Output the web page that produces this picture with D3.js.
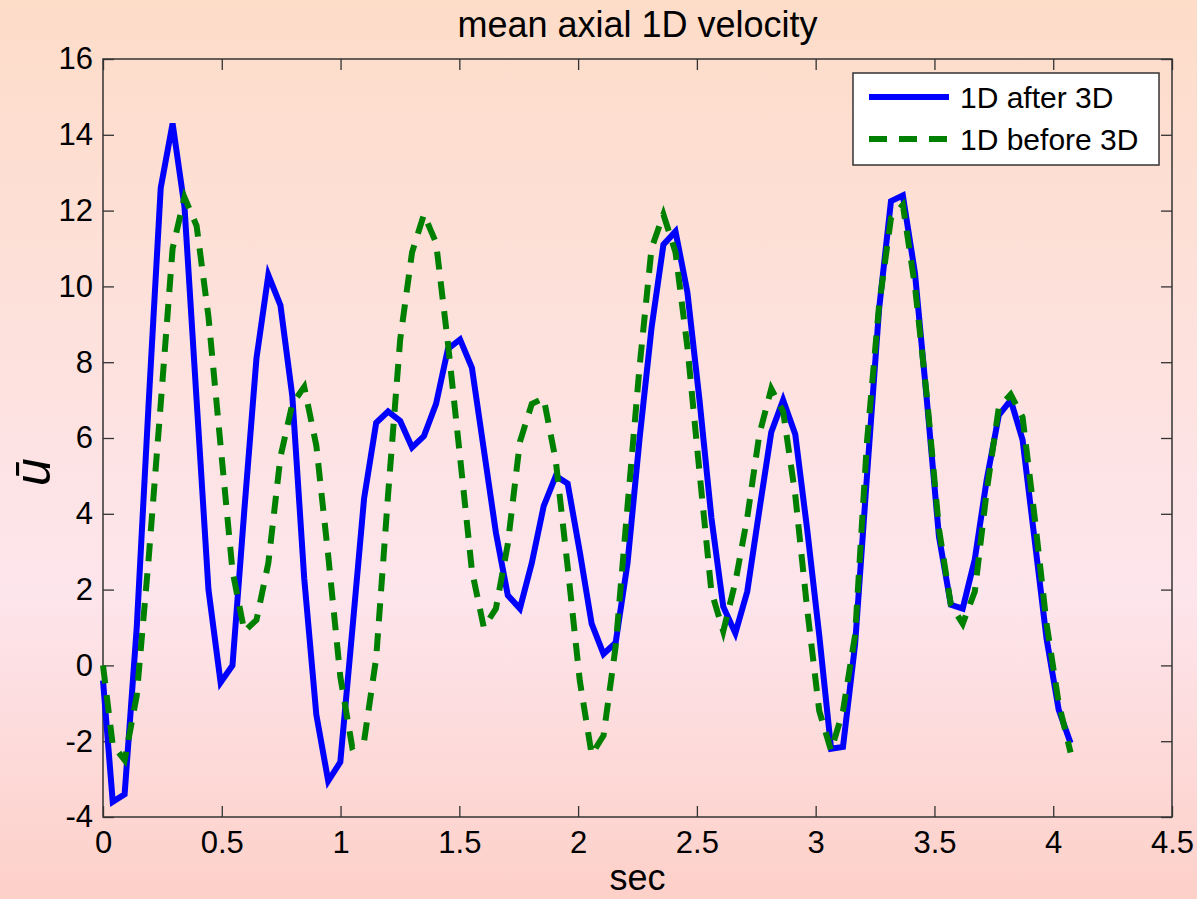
<!DOCTYPE html>
<html>
<head>
<meta charset="utf-8">
<script src="https://cdn.jsdelivr.net/npm/d3@7"></script>
<style>
  html, body { margin: 0; padding: 0; }
  body { width: 1197px; height: 899px; overflow: hidden; }
  svg text { font-family: "Liberation Sans", Arial, sans-serif; fill: #000; }
</style>
</head>
<body>
<svg id="chart"></svg>
<script>
// sample times (sec)
const time = [0,
  0.041, 0.091, 0.142, 0.192, 0.243, 0.293, 0.343, 0.394, 0.444, 0.495,
  0.545, 0.595, 0.646, 0.696, 0.747, 0.797, 0.847, 0.898, 0.948, 0.999,
  1.049, 1.099, 1.150, 1.200, 1.251, 1.301, 1.351, 1.402, 1.452, 1.503,
  1.553, 1.603, 1.654, 1.704, 1.755, 1.805, 1.855, 1.906, 1.956, 2.007,
  2.057, 2.107, 2.158, 2.208, 2.259, 2.309, 2.359, 2.410, 2.460, 2.511,
  2.561, 2.611, 2.662, 2.712, 2.763, 2.813, 2.863, 2.914, 2.964, 3.015,
  3.065, 3.115, 3.166, 3.216, 3.267, 3.317, 3.367, 3.418, 3.468, 3.519,
  3.569, 3.619, 3.670, 3.720, 3.771, 3.821, 3.871, 3.922, 3.972, 4.023,
  4.073];

// 1D after 3D
const afterValues = [-0.4,
  -3.6, -3.4, 1.0, 6.9, 12.6, 14.3, 12.1, 7.0, 2.0, -0.45,
  0.0, 4.1, 8.1, 10.3, 9.5, 7.1, 2.3, -1.3, -3.05, -2.55,
  0.9, 4.4, 6.4, 6.7, 6.45, 5.75, 6.05, 6.9, 8.35, 8.6,
  7.85, 5.7, 3.5, 1.85, 1.5, 2.7, 4.2, 5.0, 4.8, 3.0,
  1.1, 0.3, 0.6, 2.7, 6.0, 8.9, 11.1, 11.45, 9.85, 7.0,
  3.9, 1.55, 0.85, 1.95, 4.1, 6.15, 7.0, 6.1, 3.6, 0.8,
  -2.2, -2.15, 0.55, 5.0, 9.4, 12.25, 12.4, 10.35, 7.0, 3.4,
  1.6, 1.5, 2.8, 4.9, 6.6, 7.0, 5.95, 3.3, 0.7, -1.17,
  -2.05];

// 1D before 3D
const beforeValues = [0.0,
  -2.1, -2.5, -0.8, 2.8, 6.9, 11.0, 12.35, 11.6, 9.2, 5.8,
  2.5, 0.9, 1.2, 2.7, 5.5, 6.9, 7.35, 5.8, 2.9, -0.3,
  -2.15, -2.0, 0.2, 4.5, 8.6, 10.9, 11.9, 11.15, 8.5, 5.5,
  2.5, 1.0, 1.5, 3.2, 5.9, 6.9, 7.05, 5.4, 2.6, -0.4,
  -2.35, -1.85, 0.5, 4.2, 7.9, 11.0, 11.9, 10.9, 8.4, 5.1,
  1.95, 0.9, 2.2, 3.9, 6.1, 7.3, 6.7, 4.5, 1.5, -1.2,
  -2.25, -1.2, 0.8, 5.9, 9.5, 11.8, 12.15, 10.0, 7.1, 3.6,
  1.6, 1.1, 1.95, 4.6, 6.8, 7.15, 6.55, 3.9, 1.1, -1.0,
  -2.3];

const xTicks = [0, 0.5, 1, 1.5, 2, 2.5, 3, 3.5, 4, 4.5];
const yTicks = [-4, -2, 0, 2, 4, 6, 8, 10, 12, 14, 16];
const seriesNames = ["1D after 3D", "1D before 3D"];

const W = 1197, H = 899;
const margin = {top: 59, right: 25, bottom: 82, left: 103},
    width = W - margin.left - margin.right,
    height = H - margin.top - margin.bottom;

const svg = d3.select("#chart")
    .attr("width", W)
    .attr("height", H);

// background gradient
const defs = svg.append("defs");
const grad = defs.append("linearGradient")
    .attr("id", "bg")
    .attr("x1", 0).attr("y1", 0).attr("x2", 0).attr("y2", 1);
grad.append("stop").attr("offset", "0%").attr("stop-color", "#fddcc8");
grad.append("stop").attr("offset", "66%").attr("stop-color", "#fde5ec");
grad.append("stop").attr("offset", "100%").attr("stop-color", "#fdd0c8");

svg.append("rect")
    .attr("width", W).attr("height", H)
    .attr("fill", "url(#bg)");

const g = svg.append("g")
    .attr("transform", "translate(" + margin.left + "," + margin.top + ")");

const x = d3.scaleLinear().domain([0, 4.5]).range([0, width]);
const y = d3.scaleLinear().domain([-4, 16]).range([height, 0]);

const fmt = d3.format("~g");
const tickLen = 11;

// axes with inward ticks
const xAxis = g.append("g")
    .attr("transform", "translate(0," + height + ")")
    .call(d3.axisBottom(x).tickValues(xTicks).tickFormat(fmt).tickSizeInner(-tickLen).tickSizeOuter(0).tickPadding(14));
const yAxis = g.append("g")
    .call(d3.axisLeft(y).tickValues(yTicks).tickFormat(d => fmt(d).replace("\u2212", "-")).tickSizeInner(-tickLen).tickSizeOuter(0).tickPadding(10));
g.append("g")
    .call(d3.axisTop(x).tickValues(xTicks).tickFormat("").tickSizeInner(-tickLen).tickSizeOuter(0));
g.append("g")
    .attr("transform", "translate(" + width + ",0)")
    .call(d3.axisRight(y).tickValues(yTicks).tickFormat("").tickSizeInner(-tickLen).tickSizeOuter(0));

g.selectAll(".domain").remove();
g.selectAll(".tick line").attr("stroke", "#333").attr("stroke-width", 1.3);
xAxis.selectAll("text").attr("font-size", 31).attr("fill", "#000");
yAxis.selectAll("text").attr("font-size", 31).attr("fill", "#000");

// axes box
g.append("rect")
    .attr("width", width).attr("height", height)
    .attr("fill", "none")
    .attr("stroke", "#333")
    .attr("stroke-width", 1.5);

const line = d3.line()
    .x((d, i) => x(time[i]))
    .y(d => y(d));

g.append("path")
    .datum(afterValues)
    .attr("d", line)
    .attr("fill", "none")
    .attr("stroke", "#0000ff")
    .attr("stroke-width", 6)
    .attr("stroke-linejoin", "miter");

g.append("path")
    .datum(beforeValues)
    .attr("d", line)
    .attr("fill", "none")
    .attr("stroke", "#008000")
    .attr("stroke-width", 6)
    .attr("stroke-dasharray", "18,12");

// title and labels
svg.append("text")
    .attr("x", margin.left + width / 2)
    .attr("y", 37)
    .attr("text-anchor", "middle")
    .attr("font-size", 36)
    .text("mean axial 1D velocity");

svg.append("text")
    .attr("x", margin.left + width / 2)
    .attr("y", 890)
    .attr("text-anchor", "middle")
    .attr("font-size", 36)
    .text("sec");

svg.append("text")
    .attr("transform", "translate(50,472) rotate(-90)")
    .attr("text-anchor", "middle")
    .attr("font-family", "'DejaVu Serif', 'Liberation Serif', serif")
    .attr("font-style", "italic")
    .attr("font-size", 50)
    .text("\u016B");

// legend
const legend = svg.append("g").attr("transform", "translate(853,73)");
legend.append("rect")
    .attr("width", 306).attr("height", 92)
    .attr("fill", "#fff")
    .attr("stroke", "#333")
    .attr("stroke-width", 1.5);
const legendStyles = [
  {color: "#0000ff", dash: null},
  {color: "#008000", dash: "18,12"}
];
seriesNames.forEach((name, i) => {
  const ly = 24 + i * 42;
  legend.append("line")
      .attr("x1", 16).attr("x2", 96)
      .attr("y1", ly).attr("y2", ly)
      .attr("stroke", legendStyles[i].color)
      .attr("stroke-width", 6)
      .attr("stroke-dasharray", legendStyles[i].dash);
  legend.append("text")
      .attr("x", 107).attr("y", ly + 11)
      .attr("font-size", 30)
      .text(name);
});
</script>
</body>
</html>
